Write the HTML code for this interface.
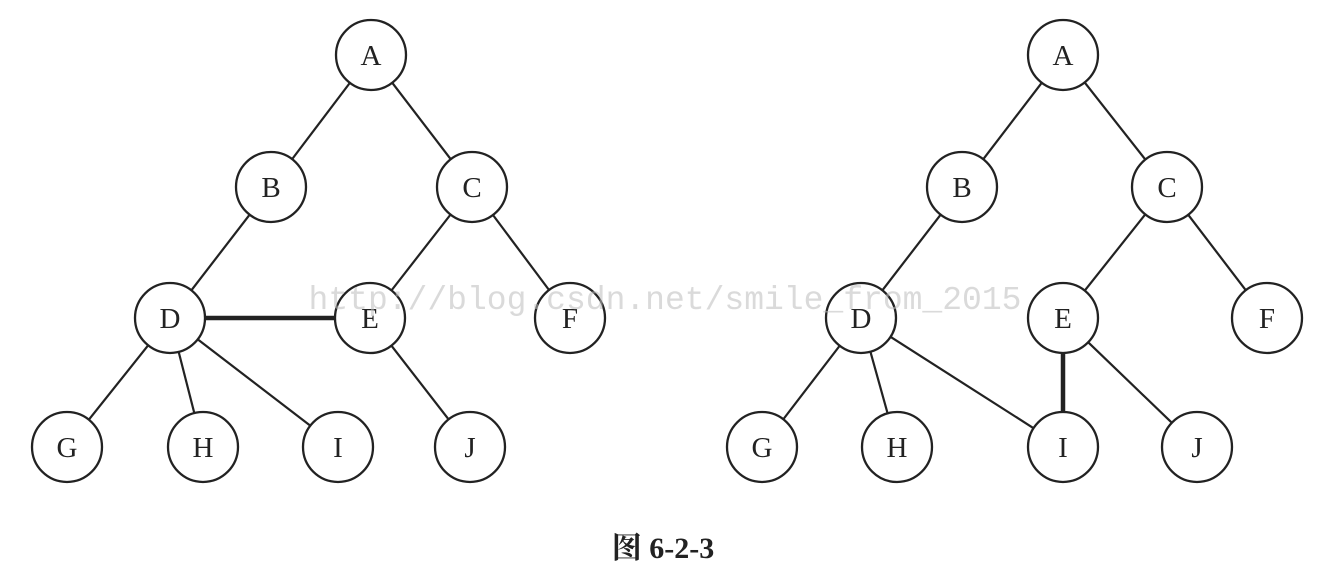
<!DOCTYPE html>
<html><head><meta charset="utf-8"><style>
html,body{margin:0;padding:0;background:#fff;width:1322px;height:588px;overflow:hidden}
svg{display:block}
</style></head><body>
<svg id="fig" width="1322" height="588" viewBox="0 0 1322 588">
<g id="edges"></g><g id="nodes"></g>
<text x="665" y="309" text-anchor="middle" font-family="'Liberation Mono',monospace" font-size="33" fill="#bbb" fill-opacity="0.55">http://blog.csdn.net/smile_from_2015</text>
<text x="663" y="558" text-anchor="middle" font-family="'Liberation Serif','Noto Serif CJK SC',serif" font-size="30" font-weight="bold" fill="#222">图 6-2-3</text>
</svg>
<script>
const leftLabels=["A","B","C","D","E","F","G","H","I","J"];
const leftX=[371,271,472,170,370,570,67,203,338,470];
const leftY=[55,187,187,318,318,318,447,447,447,447];
const leftEdges=[["A","B"],["A","C"],["B","D"],["C","E"],["C","F"],["D","G"],["D","H"],["D","I"],["E","J"]];
const leftThick=[["D","E"]];
const rightLabels=["A","B","C","D","E","F","G","H","I","J"];
const rightX=[1063,962,1167,861,1063,1267,762,897,1063,1197];
const rightY=[55,187,187,318,318,318,447,447,447,447];
const rightEdges=[["A","B"],["A","C"],["B","D"],["C","E"],["C","F"],["D","G"],["D","H"],["D","I"],["E","J"]];
const rightThick=[["E","I"]];
const R=35, NS="http://www.w3.org/2000/svg";
const eg=document.getElementById('edges'), ng=document.getElementById('nodes');
function draw(side,labels,xs,ys,edges,thick){
  const pos={};labels.forEach((l,i)=>pos[l]=[xs[i],ys[i]]);
  function line(a,b,w,nm){
    const [x1,y1]=pos[a],[x2,y2]=pos[b];
    const dx=x2-x1,dy=y2-y1,d=Math.hypot(dx,dy);
    const el=document.createElementNS(NS,'line');
    el.setAttribute('x1',x1+dx/d*R);el.setAttribute('y1',y1+dy/d*R);
    el.setAttribute('x2',x2-dx/d*R);el.setAttribute('y2',y2-dy/d*R);
    el.setAttribute('stroke','#222');el.setAttribute('stroke-width',w);
    
    
    eg.appendChild(el);
  }
  edges.forEach(e=>line(e[0],e[1],2.2,side+'-edge-'+e[0]+e[1]));
  thick.forEach(e=>line(e[0],e[1],4.5,side+'-thick-edge-'+e[0]+e[1]));
  labels.forEach((l,i)=>{
    const g=document.createElementNS(NS,'g');
    
    
    const c=document.createElementNS(NS,'circle');
    c.setAttribute('cx',xs[i]);c.setAttribute('cy',ys[i]);c.setAttribute('r',R);
    c.setAttribute('fill','#fff');c.setAttribute('stroke','#222');c.setAttribute('stroke-width',2.3);
    const t=document.createElementNS(NS,'text');
    t.setAttribute('x',xs[i]);t.setAttribute('y',ys[i]+10);
    t.setAttribute('text-anchor','middle');t.setAttribute('font-family',"'Liberation Serif',serif");
    t.setAttribute('font-size','29');t.setAttribute('fill','#222');
    t.textContent=l;
    g.appendChild(c);g.appendChild(t);ng.appendChild(g);
  });
}
draw('left',leftLabels,leftX,leftY,leftEdges,leftThick);
draw('right',rightLabels,rightX,rightY,rightEdges,rightThick);
</script>
</body></html>
